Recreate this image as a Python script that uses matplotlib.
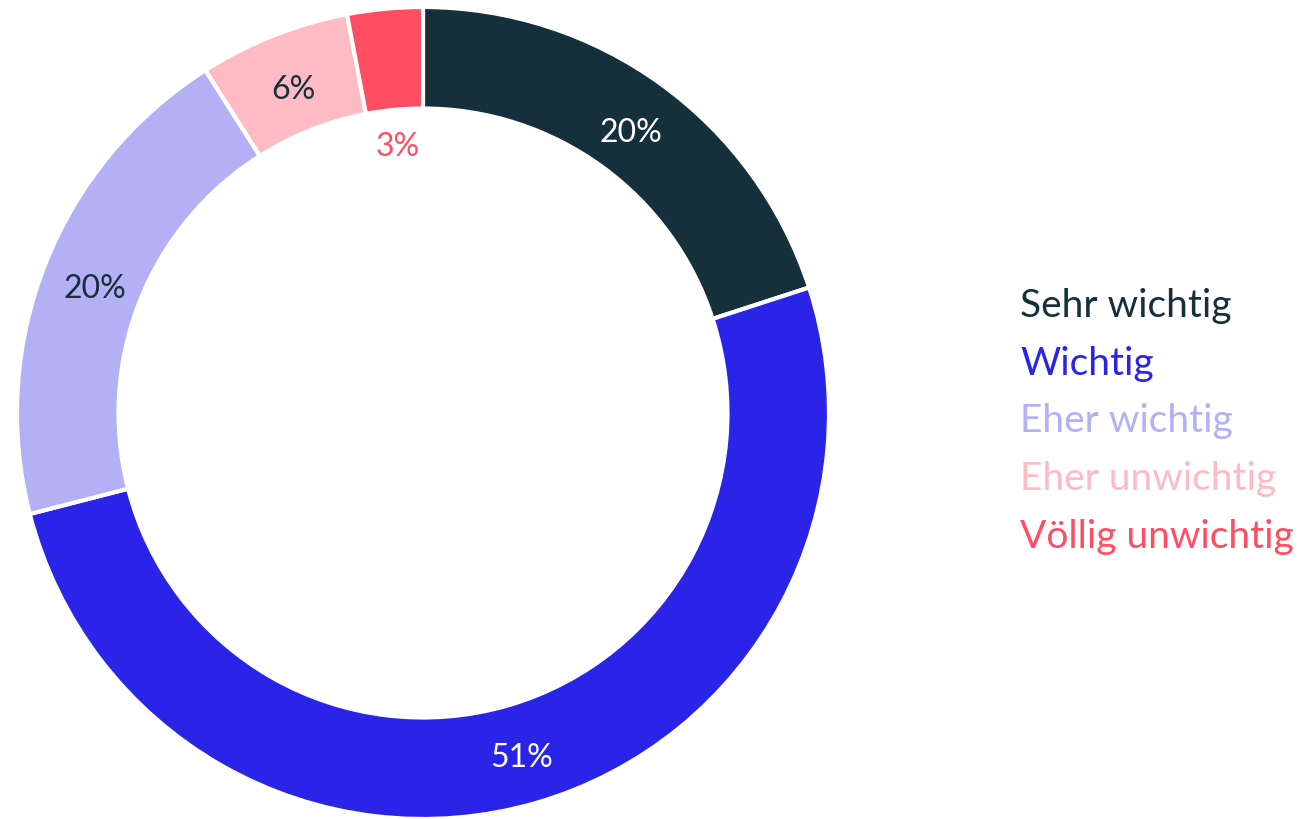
import matplotlib.pyplot as plt

categories = ["Sehr wichtig", "Wichtig", "Eher wichtig", "Eher unwichtig", "Völlig unwichtig"]
shares = [20, 51, 20, 6, 3]
colors = ["#152F3B", "#2A23E8", "#B3B0F5", "#FFBBC4", "#FF4D64"]
label_colors = ["#FFFFFF", "#FFFFFF", "#152F3B", "#152F3B", "#FF4D64"]

plt.rcParams['font.family'] = ['Lato', 'DejaVu Sans']

W, H = 1305, 820
fig = plt.figure(figsize=(W / 100, H / 100), dpi=100)

# donut centred at (423, 414) px with radius 406 px
cx, cy, r = 423, 414, 406
ax = fig.add_axes([(cx - r) / W, (H - cy - r) / H, 2 * r / W, 2 * r / H])

wedges, texts, autotexts = ax.pie(
    shares, colors=colors, startangle=90, counterclock=False,
    autopct=lambda p: f"{p:.0f}%", pctdistance=0.87,
    wedgeprops=dict(width=0.25, edgecolor="white", linewidth=3),
    textprops=dict(fontsize=23, fontweight="normal"),
)
for t, c in zip(autotexts, label_colors):
    t.set_color(c)
    x, y = t.get_position()
    t.set_position((x, y - 0.012))

# the smallest slice gets its label inside the hole
x, y = autotexts[-1].get_position()
autotexts[-1].set_position((x * 0.67 / 0.87, y * 0.67 / 0.87))

ax.set_xlim(-1, 1)
ax.set_ylim(-1, 1)
ax.set_aspect("equal")
ax.axis("off")

# legend as coloured text rows
for i, (name, c) in enumerate(zip(categories, colors)):
    fig.text(1020 / W, 1 - (317 + i * 57.7) / H, name, color=c,
             fontsize=28, fontweight="normal", va="baseline", ha="left")

fig.savefig("out.png", dpi=100)
